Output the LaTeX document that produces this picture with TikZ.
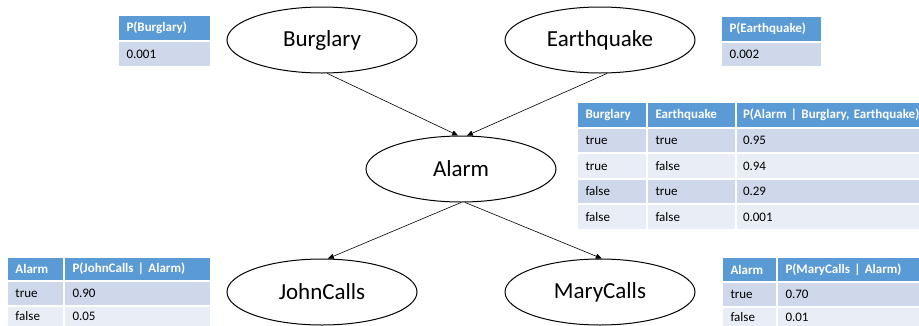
\documentclass[tikz,border=0pt]{standalone}
\usepackage{fontspec}
\setmainfont{Carlito}
\usetikzlibrary{shapes.geometric,arrows.meta}
\definecolor{hdrblue}{HTML}{5B9BD5}
\definecolor{rowdark}{HTML}{CFD8EB}
\definecolor{rowlight}{HTML}{E9EDF6}

\begin{document}
\begin{tikzpicture}[x=1pt,y=-1pt,
        var/.style={draw, ellipse, line width=1pt, minimum width=190pt, minimum height=66pt, inner sep=0pt, font=\fontsize{23}{27}\selectfont},
        edge/.style={-{Triangle[length=6pt,width=5pt]}, line width=0.6pt},
        cell/.style={draw=white, line width=2pt, anchor=north west, inner xsep=8.5pt, inner ysep=0pt, align=left, font=\fontsize{13}{15}\selectfont},
        hcell/.style={cell, fill=hdrblue, text=white, font=\fontsize{13}{15}\selectfont\bfseries},
        dcell/.style={cell, fill=rowdark},
        lcell/.style={cell, fill=rowlight}]
        \useasboundingbox (0,0) rectangle (919,325);

        % Network nodes
        \node[var] (burglary) at (322,40) {Burglary};
        \node[var] (earthquake) at (600,40) {Earthquake};
        \node[var] (alarm) at (461,169) {Alarm};
        \node[var] (johncalls) at (322,292) {JohnCalls};
        \node[var] (marycalls) at (600,292) {MaryCalls};

        % Arcs
        \draw[edge] (burglary.-81) -- (alarm.95);
        \draw[edge] (earthquake.-78) -- (alarm.80);
        \draw[edge] (alarm.-90) -- (johncalls.80);
        \draw[edge] (alarm.-83) -- (marycalls.87);

        % Prior of Burglary
        \node[hcell, text width=76pt, minimum height=26pt] (pb-h) at (117,14) {P(Burglary)};
        \node[dcell, text width=76pt, minimum height=26pt] (pb-v) at (117,40) {0.001};

        % Prior of Earthquake
        \node[hcell, text width=84pt, minimum height=25.5pt] (pe-h) at (720,15) {P(Earthquake)};
        \node[dcell, text width=84pt, minimum height=25.5pt] (pe-v) at (720,40.5) {0.002};

        % CPT of Alarm (last column runs past the right edge)
        \node[hcell, text width=53pt, minimum height=26pt] (pa-h1) at (576,101) {Burglary};
        \node[hcell, text width=72pt, minimum height=26pt] (pa-h2) at (646,101) {Earthquake};
        \node[hcell, text width=182pt, minimum height=26pt, inner xsep=7pt] (pa-h3) at (735,101) {P(Alarm | Burglary, Earthquake)};
        \node[dcell, text width=53pt, minimum height=25.4pt] (pa-11) at (576,127) {true};
        \node[dcell, text width=72pt, minimum height=25.4pt] (pa-12) at (646,127) {true};
        \node[dcell, text width=182pt, minimum height=25.4pt, inner xsep=7pt] (pa-13) at (735,127) {0.95};
        \node[lcell, text width=53pt, minimum height=25.4pt] (pa-21) at (576,152.4) {true};
        \node[lcell, text width=72pt, minimum height=25.4pt] (pa-22) at (646,152.4) {false};
        \node[lcell, text width=182pt, minimum height=25.4pt, inner xsep=7pt] (pa-23) at (735,152.4) {0.94};
        \node[dcell, text width=53pt, minimum height=25.4pt] (pa-31) at (576,177.8) {false};
        \node[dcell, text width=72pt, minimum height=25.4pt] (pa-32) at (646,177.8) {true};
        \node[dcell, text width=182pt, minimum height=25.4pt, inner xsep=7pt] (pa-33) at (735,177.8) {0.29};
        \node[lcell, text width=53pt, minimum height=25.4pt] (pa-41) at (576,203.2) {false};
        \node[lcell, text width=72pt, minimum height=25.4pt] (pa-42) at (646,203.2) {false};
        \node[lcell, text width=182pt, minimum height=25.4pt, inner xsep=7pt] (pa-43) at (735,203.2) {0.001};

        % CPT of JohnCalls
        \node[hcell, text width=40pt, minimum height=24pt] (pj-h1) at (6,256) {Alarm};
        \node[hcell, text width=130pt, minimum height=24pt] (pj-h2) at (63,256) {P(JohnCalls | Alarm)};
        \node[dcell, text width=40pt, minimum height=25pt] (pj-11) at (6,280) {true};
        \node[dcell, text width=130pt, minimum height=25pt] (pj-12) at (63,280) {0.90};
        \node[lcell, text width=40pt, minimum height=21pt] (pj-21) at (6,305) {false};
        \node[lcell, text width=130pt, minimum height=21pt] (pj-22) at (63,305) {0.05};

        % CPT of MaryCalls
        \node[hcell, text width=38pt, minimum height=25pt] (pm-h1) at (721,256) {Alarm};
        \node[hcell, text width=126pt, minimum height=25pt] (pm-h2) at (776,256) {P(MaryCalls | Alarm)};
        \node[dcell, text width=38pt, minimum height=25pt] (pm-11) at (721,281) {true};
        \node[dcell, text width=126pt, minimum height=25pt] (pm-12) at (776,281) {0.70};
        \node[lcell, text width=38pt, minimum height=20pt] (pm-21) at (721,306) {false};
        \node[lcell, text width=126pt, minimum height=20pt] (pm-22) at (776,306) {0.01};
    \end{tikzpicture}
\end{document}
